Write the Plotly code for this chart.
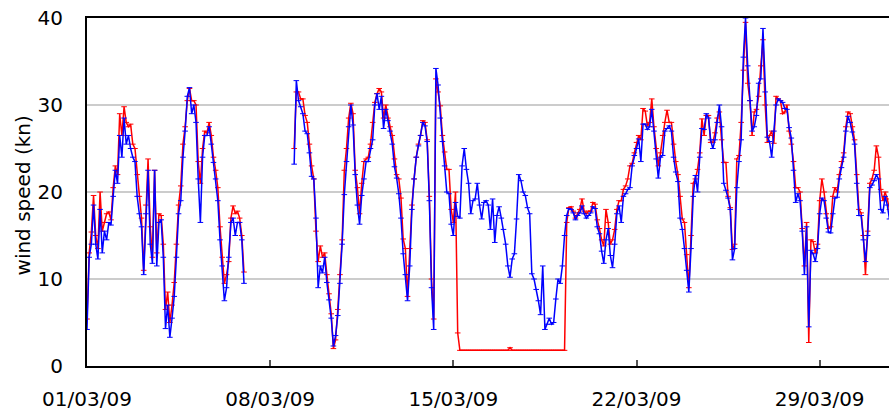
import plotly.graph_objects as go
import pandas as pd

# ---- data (2-hourly samples from 01/03/09 00:00) ----
start = "2009-03-01 00:00"
step = "2h"

blue_part1 = [4.2, 12.5, 14, 18.5, 14, 12.3, 18, 13, 15.5, 14.5, 16.5, 16.2, 19.5, 22.5, 21, 26.5, 24, 28.5, 25.5, 26.5,
              25, 24, 23.5, 19.5, 17.5, 16, 10.5, 17.5, 22.5, 14, 11.8, 22.5, 11.5, 16.5, 16.8, 12.5, 4.3, 7, 3.3, 5.5,
              8, 12.5, 17.5, 19, 24, 27, 31, 32, 29, 30, 28, 21.5, 16.5, 24, 26.5, 26.5, 27.5, 25.5, 23.4, 21.5,
              19, 14.5, 11.5, 7.5, 9, 12.5, 16.5, 17, 15, 16.5, 16.5, 14.5, 9.5]
gap_len = 22
blue_part2 = [23.2, 32.8, 30.5, 29.8, 29, 27, 26.7, 24.5, 21.8, 21.5, 17, 9, 11.5, 10.7, 12.5, 9.6, 7.6, 5.5, 2.3, 3.5,
              5.8, 9.5, 14, 19.7, 23.5, 27.5, 30, 27.7, 22, 18.5, 16.3, 19.6, 21.5, 23.5, 23.5, 25, 26, 30, 31.3, 29.5,
              31, 27.3,
              29.5, 28.2, 27, 25.5, 22.9, 21.6, 19.8, 17, 12.9, 10.5, 7.5, 11.5, 18, 21.5, 24, 25.3, 26.5, 28, 27.6, 25.8,
              19, 9, 4.2, 34.2, 32.3, 28.5, 25.8, 23, 20, 19.8, 16.3, 15, 18.8, 17.2, 17, 23, 25, 22.6, 21, 17.5,
              19, 19.2, 21, 18.5, 16.9, 18.8,
              19, 18.5, 15.7, 19.2, 14.2, 17.3, 18.3, 17, 15.7, 14, 11.5, 10.2, 12.3, 12.9, 16.9, 22, 21.3, 20, 19.6, 18.2,
              17.5, 10.6, 10, 8.8, 7.5, 5.9, 11.5, 4.2, 4.8, 5.5, 4.8, 5, 7.7, 10, 9.5, 11.5, 15, 17.3, 18.1, 18,
              17.6, 16.8, 17.3, 17.6, 18.4, 17.5,
              17, 17.3, 17.6, 18.3, 18.1, 16, 15.2, 13.2, 11.8, 14.5, 15.8, 12.7, 11.3, 14, 17.5, 18.4, 16.5, 19.5, 19.8, 20.3,
              20.5, 23, 24.2, 25, 26.1, 23.5, 27.8, 27.8, 27.2, 27.5, 29.5, 27, 23.8, 21.6, 24, 24.2, 27, 27.3, 27.6, 27,
              24, 22.3, 21.2, 17, 15.7, 13.5,
              11, 8.5, 13.5, 19.5, 21.9, 20, 24, 27.3, 27.2, 29, 28.5, 26, 25, 26, 28, 30, 27.5, 21, 20.2, 19.3,
              18, 12.2, 13.5, 20.5, 23.5, 26, 35.5, 40, 34.5, 30.5, 27, 27.5, 28.8, 32.5, 33, 38.8, 31.5, 26.3, 25.8, 24,
              27, 30, 30.7, 30.5, 30.3, 29.6,
              29.5, 27.4, 26.2, 22.5, 18.8, 19.8, 19, 15.5, 10.5, 16, 4.5, 13.3, 12.9, 12, 13.5, 17.5, 19.3, 19, 17, 15.4,
              15.3, 17.5, 19.3, 19.4, 21.5, 22.8, 24, 27, 28.7, 28, 26.9, 25.5, 21, 17.3, 17.3, 14.5, 12, 15, 20.5, 20.8,
              21.3, 22, 21.5, 18, 17.6, 19.5, 18.5, 16.9]

red_part1 = [5.4, 13, 15.4, 19.6, 15, 13.5, 20, 15.5, 16.5, 17.5, 17.7, 16.8, 20.5, 23, 22, 29, 26.5, 29.8, 28, 27.5,
             27.8, 25.5, 25, 22, 19.5, 17, 11, 18.5, 23.8, 16, 12.5, 22.5, 13, 17.5, 17.3, 14, 6.5, 8.5, 5, 7,
             9.6, 14, 18.5, 20.7, 25.5, 27.5, 30.5, 31.9, 30.5, 30.5, 30, 23.5, 21, 25, 27, 26.8, 28, 26.5, 24, 22.5,
             20.5, 16, 12.5, 9.5, 10.5, 12, 17, 18.4, 17.5, 17.8, 17, 15, 10.8]
red_part2 = [25, 31.5, 31.5, 30.7, 30.7, 28.8, 28, 25.5, 23, 21.5, 15.5, 12, 13.8, 12.5, 13, 10.5, 8.3, 6, 2, 3,
             6.5, 10.5, 14.5, 22.5, 25, 28.5, 30.2, 29, 22.5, 20.5, 17.5, 21, 23.5, 23.8, 24, 25.5, 28, 30.3, 31.3, 31.9,
             31.5, 28.5,
             30, 28.5, 27.5, 26.5, 23.8, 22, 21.5, 19.3, 14.6, 13.5, 8, 13.5, 18.5, 21.5, 24, 25.5, 26.5, 28.2, 28, 26,
             19.5, 10, 5.4, 33, 31.5, 29.9, 26.5, 24.6, 22.6, 22.6, 18, 16.5, 20, 3.8, 1.8, 1.8, 1.8, 1.8, 1.8, 1.8,
             1.8, 1.8, 1.8, 1.8, 1.8, 1.8,
             1.8, 1.8, 1.8, 1.8, 1.8, 1.8, 1.8, 1.8, 1.8, 1.8, 1.8, 2.1, 1.8, 1.8, 1.8, 1.8, 1.8, 1.8, 1.8, 1.8,
             1.8, 1.8, 1.8, 1.8, 1.8, 1.8, 1.8, 1.8, 1.8, 1.8, 1.8, 1.8, 1.8, 1.8, 1.8, 1.8, 1.8, 16.5, 18.2, 18.3,
             17.8, 17, 17.6, 18, 19.2, 17.8,
             17.5, 17.8, 17.8, 18.8, 18.6, 16.8, 15.8, 14.5, 13.8, 18, 16.5, 14, 14.5, 15.7, 18, 19, 19, 20.3, 20.7, 21.5,
             23, 23.3, 24.5, 25.7, 26.5, 26, 29.6, 29.3, 27.6, 28, 30.7, 27.5, 25, 23, 24.5, 26.5, 28, 29.4, 28, 28,
             25.5, 23.5, 22, 19.5, 16.9, 16.5,
             12.8, 9, 15, 21, 21.5, 22.6, 24.5, 28.4, 26.5, 28.8, 28.8, 25.7, 25.7, 26.8, 28.5, 29.2, 26, 23.4, 23.4, 19.5,
             18.2, 13.4, 14, 23.8, 24.2, 28, 34, 39.5, 32.5, 30.5, 26.5, 29.2, 29.5, 31, 34.5, 37.5, 30, 25.7, 26.5, 27,
             25.6, 31, 30.7, 30.5, 29, 29.2,
             30, 27, 25.5, 23.5, 20.5, 20.5, 20, 15.8, 11.5, 16.5, 2.7, 14.5, 14.3, 13, 14, 19, 21.5, 20, 17.5, 15.8,
             16, 19.5, 20.5, 20, 22, 23.5, 24.5, 27.5, 29.2, 29, 27.5, 26, 22, 18, 17.6, 15, 10.5, 15.5, 21, 21.5,
             22.5, 25.3, 24, 20.3, 19, 20, 19.2, 18]

tick_dates = ["2009-03-01", "2009-03-08", "2009-03-15", "2009-03-22", "2009-03-29"]
tick_labels = ["01/03/09", "08/03/09", "15/03/09", "22/03/09", "29/03/09"]
y_ticks = [0, 10, 20, 30, 40]
x_end = "2009-03-31 15:35"

blue = blue_part1 + [None] * gap_len + blue_part2
red = red_part1 + [None] * gap_len + red_part2
n = max(len(blue), len(red))
blue += [None] * (n - len(blue))
red += [None] * (n - len(red))
times = pd.date_range(start=start, periods=n, freq=step)

font_family = "DejaVu Sans"

fig = go.Figure()
for vals, col in ((red, "#FF0000"), (blue, "#0000FF")):
    fig.add_trace(go.Scatter(
        x=times, y=vals, mode="lines+markers",
        line=dict(color=col, width=1.5),
        marker=dict(symbol="line-ew", size=4, line=dict(width=1, color=col)),
        connectgaps=False, showlegend=False, hoverinfo="skip", cliponaxis=True))

fig.update_layout(
    width=889, height=410,
    margin=dict(l=87, r=0, t=18, b=44, autoexpand=False),
    paper_bgcolor="white", plot_bgcolor="white",
    font=dict(family=font_family, size=20, color="black"),
    showlegend=False,
)
fig.update_xaxes(
    range=[start, x_end], automargin=False,
    tickvals=tick_dates, ticktext=tick_labels,
    ticks="inside", ticklen=6, tickwidth=1.5, tickcolor="#555555",
    showline=True, linecolor="black", linewidth=2, mirror=True,
    showgrid=False, zeroline=False,
    ticklabelstandoff=14,
)
fig.update_yaxes(
    range=[0, 40], tickvals=y_ticks, automargin=False,
    showgrid=True, gridcolor="#CCCCCC", gridwidth=1.5,
    showline=True, linecolor="black", linewidth=2,
    ticks="", zeroline=False,
    ticklabelstandoff=18,
)
fig.add_annotation(
    text="wind speed (kn)", textangle=-90,
    xref="paper", yref="paper", x=-0.0798, y=0.49,
    xanchor="center", yanchor="middle", showarrow=False,
    font=dict(family=font_family, size=20, color="black"),
)
fig.write_html(
    "out.html",
    config={"displayModeBar": False},
    post_script="document.body.style.margin='0';document.body.style.padding='0';document.body.style.overflow='hidden';",
)
